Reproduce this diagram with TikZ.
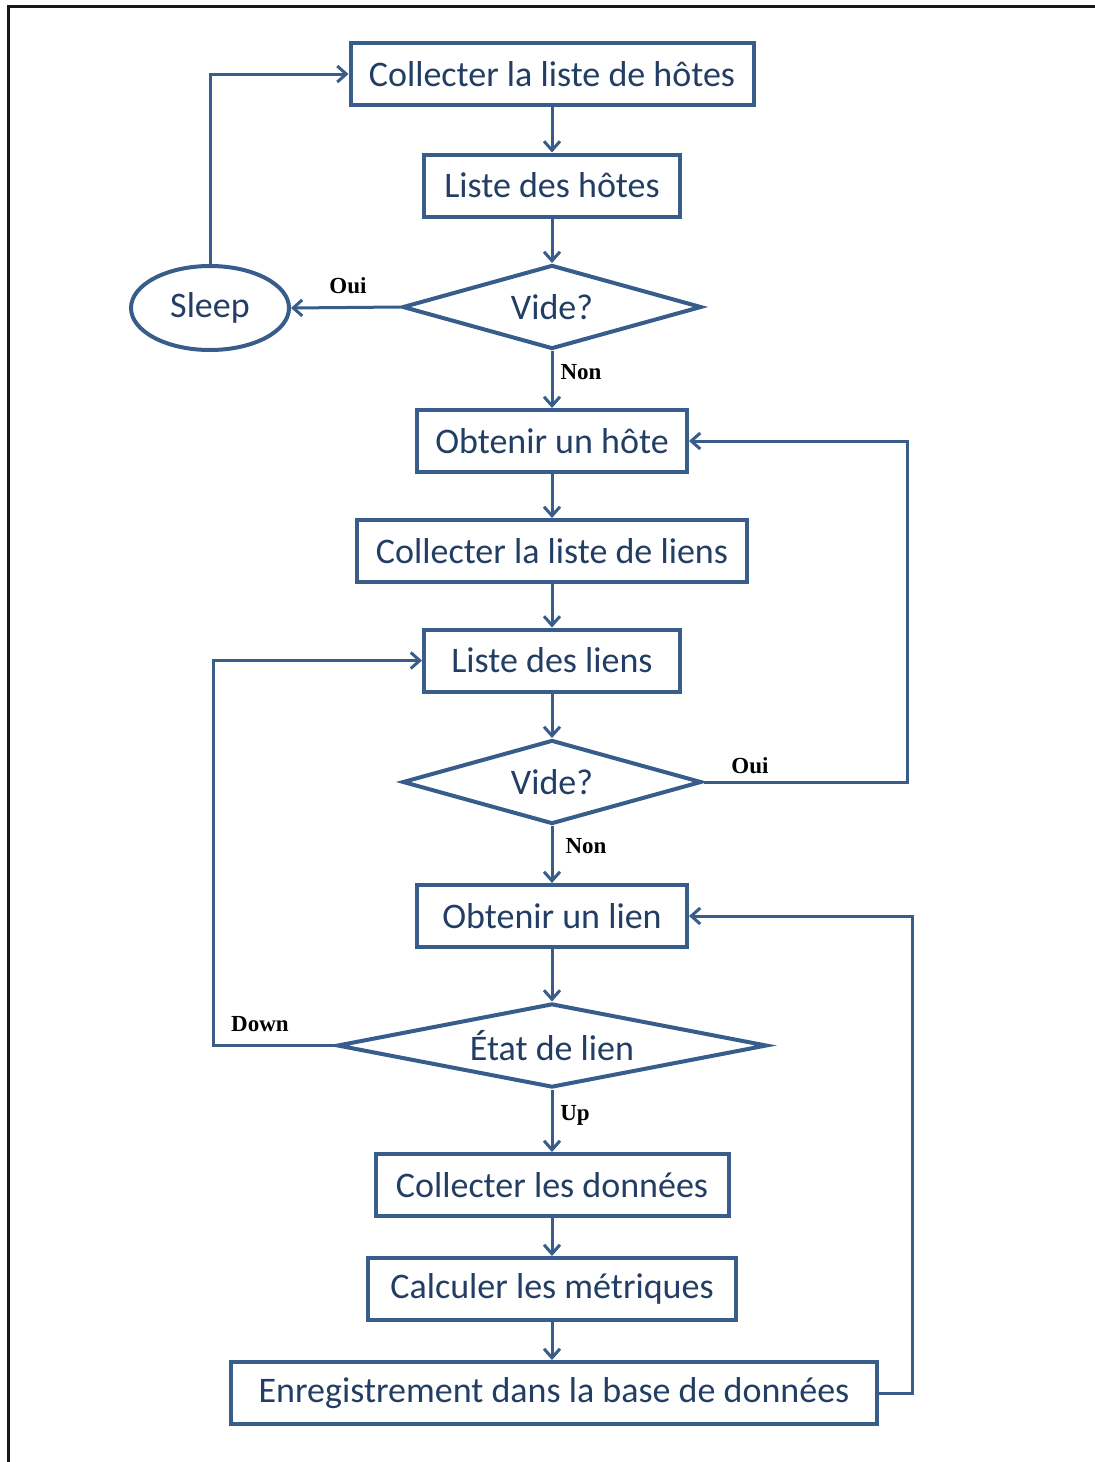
\documentclass[tikz,border=0pt]{standalone}
\usepackage{fontspec}
\setmainfont{Carlito}
\newfontfamily\labelfont{Liberation Serif}
\usetikzlibrary{shapes.geometric,arrows.meta}
\definecolor{boxline}{RGB}{56,93,138}
\definecolor{boxtext}{RGB}{35,62,100}
\begin{document}
\begin{tikzpicture}[x=0.5pt,y=-0.5pt,
  every node/.style={font=\fontsize{18}{20}\selectfont, text=boxtext},
  stepbox/.style={draw=boxline, line width=2pt, rectangle, inner sep=0pt, minimum height=31pt, fill=white},
  decision/.style={draw=boxline, line width=2pt, diamond, inner sep=0pt, minimum height=42pt, fill=white},
  pause/.style={draw=boxline, line width=2pt, ellipse, inner sep=0pt, minimum width=79pt, minimum height=42pt},
  arr/.style={draw=boxline, line width=1.5pt, -{Straight Barb[length=4.5pt,width=8pt,line width=1.5pt]}},
  tag/.style={font=\labelfont\bfseries\fontsize{11.5}{12}\selectfont, text=black, inner sep=0pt}]
\useasboundingbox (0,0) rectangle (1095,1462);
% outer frame (left and top edges)
\draw[line width=1.25pt, black!90] (8.7,1470) -- (8.7,6.3) -- (1100,6.3);

% nodes
\node[stepbox, minimum width=201.5pt] (hostcol) at (552,74) {Collecter la liste de hôtes};
\node[stepbox, minimum width=128pt] (hostlist) at (552,185.5) {Liste des hôtes};
\node[decision, aspect=3.6, minimum width=149.5pt] (empty1) at (552,307) {Vide?};
\node[pause] (sleep) at (210,308) {Sleep};
\node[stepbox, minimum width=135pt] (gethost) at (552,441) {Obtenir un hôte};
\node[stepbox, minimum width=195pt] (linkcol) at (552,551) {Collecter la liste de liens};
\node[stepbox, minimum width=128pt] (linklist) at (552,660.5) {Liste des liens};
\node[decision, aspect=3.6, minimum width=149.5pt] (empty2) at (552,782) {Vide?};
\node[stepbox, minimum width=135pt] (getlink) at (552,916) {Obtenir un lien};
\node[decision, aspect=5.2, minimum width=215pt] (state) at (552,1045.5) {État de lien};
\node[stepbox, minimum width=176.5pt] (datacol) at (552,1185) {Collecter les données};
\node[stepbox, minimum width=184pt] (metrics) at (552,1289) {Calculer les métriques};
\node[stepbox, minimum width=323pt] (store) at (554,1393) {Enregistrement dans la base de données};

% corner points of the loop-back lines
\coordinate (c1) at (210,74);
\coordinate (c2) at (907,782);
\coordinate (c3) at (907,441);
\coordinate (c4) at (213,1045.5);
\coordinate (c5) at (213,660.5);
\coordinate (c6) at (912,1393);
\coordinate (c7) at (912,916);

% straight connectors
\draw[arr] (hostcol.south) -- (hostlist.north);
\draw[arr] (hostlist.south) -- (empty1.north);
\draw[arr] (empty1.west) -- (sleep.east);
\draw[arr] (empty1.south) -- (gethost.north);
\draw[arr] (gethost.south) -- (linkcol.north);
\draw[arr] (linkcol.south) -- (linklist.north);
\draw[arr] (linklist.south) -- (empty2.north);
\draw[arr] (empty2.south) -- (getlink.north);
\draw[arr] (getlink.south) -- (state.north);
\draw[arr] (state.south) -- (datacol.north);
\draw[arr] (datacol.south) -- (metrics.north);
\draw[arr] (metrics.south) -- (metrics.south |- store.north);

% loop-back connectors
\draw[arr] (sleep.north) -- (c1) -- (hostcol.west);
\draw[arr] (empty2.east) -- (c2) -- (c3) -- (gethost.east);
\draw[arr] (state.west) -- (c4) -- (c5) -- (linklist.west);
\draw[arr] (store.east) -- (c6) -- (c7) -- (getlink.east);

% branch labels
\node[tag] (l1) at (348,286) {Oui};
\node[tag] (l2) at (581,372) {Non};
\node[tag] (l3) at (750,766) {Oui};
\node[tag] (l4) at (586,846) {Non};
\node[tag] (l5) at (260,1024) {Down};
\node[tag] (l6) at (575,1115) {Up};
\end{tikzpicture}
\end{document}
